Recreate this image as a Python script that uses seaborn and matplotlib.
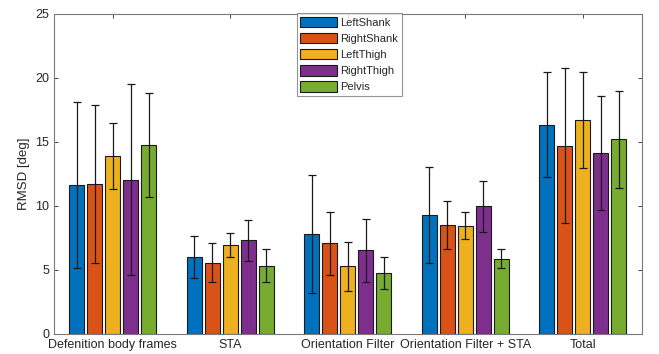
import numpy as np
import pandas as pd
import matplotlib
matplotlib.use("Agg")
import matplotlib.pyplot as plt
import seaborn as sns

categories = ["Defenition body frames", "STA", "Orientation Filter",
              "Orientation Filter + STA", "Total"]
segments = ["LeftShank", "RightShank", "LeftThigh", "RightThigh", "Pelvis"]

left_shank = [11.6, 6.0, 7.8, 9.25, 16.35]
right_shank = [11.7, 5.55, 7.05, 8.5, 14.7]
left_thigh = [13.9, 6.95, 5.25, 8.45, 16.7]
right_thigh = [12.05, 7.3, 6.5, 9.95, 14.1]
pelvis = [14.75, 5.3, 4.75, 5.85, 15.2]

left_shank_sd = [6.5, 1.65, 4.6, 3.75, 4.1]
right_shank_sd = [6.15, 1.55, 2.45, 1.9, 6.05]
left_thigh_sd = [2.6, 0.95, 1.9, 1.05, 3.75]
right_thigh_sd = [7.45, 1.6, 2.45, 2.0, 4.45]
pelvis_sd = [4.1, 1.3, 1.25, 0.75, 3.8]

colors = ["#0072BD", "#D95319", "#EDB120", "#7E2F8E", "#77AC30"]

means = [left_shank, right_shank, left_thigh, right_thigh, pelvis]
sds = [left_shank_sd, right_shank_sd, left_thigh_sd, right_thigh_sd, pelvis_sd]

rows = []
for s, m, e in zip(segments, means, sds):
    for c, v, sd in zip(categories, m, e):
        rows.append({"category": c, "segment": s, "rmsd": v, "sd": sd})
df = pd.DataFrame(rows)

sns.set_theme(style="white")
plt.rcParams["font.family"] = ["Liberation Sans", "DejaVu Sans"]

fig = plt.figure(figsize=(6.59, 3.54), dpi=100)
ax = fig.add_axes([54 / 659, 1 - 333.5 / 354, (641.5 - 54) / 659, (333.5 - 14) / 354])

sns.barplot(data=df, x="category", y="rmsd", hue="segment", order=categories,
            hue_order=segments, palette=colors, width=0.77, gap=0.17,
            saturation=1, errorbar=None, edgecolor="#1a1a1a", linewidth=0.8,
            ax=ax)

# error bars at the bar centres produced by seaborn
for i, seg in enumerate(segments):
    cont = ax.containers[i]
    xs = [p.get_x() + p.get_width() / 2 for p in cont.patches]
    ys = [p.get_height() for p in cont.patches]
    ax.errorbar(xs, ys, yerr=sds[i], fmt="none", ecolor="#1a1a1a",
                elinewidth=0.9, capsize=3.2, capthick=0.9, zorder=5)

ax.set_xlim(-0.5, 4.5)
ax.set_ylim(0, 25)
ax.set_yticks([0, 5, 10, 15, 20, 25])
ax.set_xlabel("")
ax.set_ylabel("RMSD [deg]", fontsize=9.5, color="#262626")
ax.tick_params(axis="both", direction="in", length=3, labelsize=9,
               colors="#262626", top=True, right=True, bottom=True, left=True,
               width=0.6)
ax.tick_params(axis="x", pad=4)
for sp in ax.spines.values():
    sp.set_visible(True)
    sp.set_color("#7a7a7a")
    sp.set_linewidth(0.8)

leg = ax.legend(loc="upper left", bbox_to_anchor=((296.5 - 54) / 587.5, 1.004),
                fontsize=8, frameon=True, fancybox=False, edgecolor="#7a7a7a",
                handlelength=3.3, handleheight=1.1, handletextpad=0.3,
                labelspacing=0.45, borderpad=0.35, borderaxespad=0)
leg.get_frame().set_linewidth(0.8)

fig.savefig("out.png", dpi=100, facecolor="white")
